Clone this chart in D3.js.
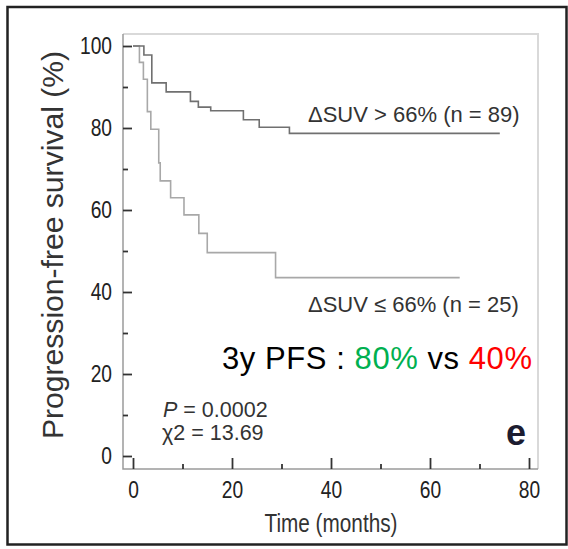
<!DOCTYPE html>
<html>
<head>
<meta charset="utf-8">
<script src="https://cdn.jsdelivr.net/npm/d3@7"></script>
<style>
  html, body { margin: 0; padding: 0; background: #fff; }
  svg { display: block; }
  .reg { font-family: "Liberation Sans", Arial, Helvetica, sans-serif; }
</style>
</head>
<body>
<script>
// ---- data ----
const highGroupMonths = [0, 2.2, 3.8, 6.7, 11.6, 13.2, 15.7, 22.3, 25.5, 31.6, 74.1];
const highGroupSurv   = [100, 97.8, 91, 88.8, 86.5, 85.1, 84.2, 82, 80.2, 78.7, 78.7];
const lowGroupMonths  = [0, 1.3, 2.1, 2.9, 3.6, 5.2, 5.5, 7.6, 10.3, 13.3, 15, 28.8, 66];
const lowGroupSurv    = [100, 96, 91.9, 84, 79.7, 71.5, 67.1, 63, 58.8, 54.3, 49.6, 43.5, 43.5];
const yMajorTicks = [0, 20, 40, 60, 80, 100];
const yMinorTicks = [10, 30, 50, 70, 90];
const xMajorTicks = [0, 20, 40, 60, 80];
const xMinorTicks = [10, 30, 50, 70];
const highLabel = "ΔSUV > 66% (n = 89)";
const lowLabel = "ΔSUV ≤ 66% (n = 25)";

const W = 568, H = 549;
const svg = d3.select("body").append("svg").attr("width", W).attr("height", H);

// outer frame
svg.append("rect").attr("x", 7.5).attr("y", 7).attr("width", 559).attr("height", 537.5)
  .attr("fill", "none").attr("stroke", "#222").attr("stroke-width", 2.5);

const x = d3.scaleLinear().domain([0, 80]).range([133, 529]);
const y = d3.scaleLinear().domain([0, 100]).range([456, 46]);

const boxL = 123, boxR = 538, boxT = 34, boxB = 469;

// plot box: top/right light, left/bottom darker
svg.append("path").attr("d", `M${boxL},${boxT}H${boxR}V${boxB}`)
  .attr("fill", "none").attr("stroke", "#d9d9d9").attr("stroke-width", 2);
svg.append("path").attr("d", `M${boxL},${boxT}V${boxB}H${boxR}`)
  .attr("fill", "none").attr("stroke", "#9a9a9a").attr("stroke-width", 1.5);

// y axis ticks
const yMaj = svg.append("g").attr("transform", `translate(${boxL},0)`)
  .call(d3.axisLeft(y).tickValues(yMajorTicks).tickSize(-9).tickPadding(11).tickFormat(d3.format("d")));
const yMin = svg.append("g").attr("transform", `translate(${boxL},0)`)
  .call(d3.axisLeft(y).tickValues(yMinorTicks).tickSize(-5).tickFormat(""));
// x axis ticks
const xMaj = svg.append("g").attr("transform", `translate(0,${boxB})`)
  .call(d3.axisBottom(x).tickValues(xMajorTicks).tickSize(-11).tickPadding(12).tickFormat(d3.format("d")));
const xMin = svg.append("g").attr("transform", `translate(0,${boxB})`)
  .call(d3.axisBottom(x).tickValues(xMinorTicks).tickSize(-5).tickFormat(""));

[yMaj, yMin, xMaj, xMin].forEach(g => {
  g.attr("font-family", null).attr("font-size", null);
  g.select(".domain").remove();
  g.selectAll("line").attr("stroke", "#333").attr("stroke-width", 1.8);
  g.selectAll("text").attr("class", "reg").attr("font-size", 24).attr("fill", "#222")
    .each(function () {
      const len = this.getComputedTextLength();
      if (len > 0) d3.select(this).attr("textLength", len * 0.8).attr("lengthAdjust", "spacingAndGlyphs");
    });
});

// curves
const line = d3.line().x(d => x(d[0])).y(d => y(d[1])).curve(d3.curveStepAfter);
const highData = highGroupMonths.map((m, i) => [m, highGroupSurv[i]]);
const lowData = lowGroupMonths.map((m, i) => [m, lowGroupSurv[i]]);
svg.append("path").datum(lowData).attr("d", line)
  .attr("fill", "none").attr("stroke", "#a8a8a8").attr("stroke-width", 1.6);
svg.append("path").datum(highData).attr("d", line)
  .attr("fill", "none").attr("stroke", "#707070").attr("stroke-width", 1.6);

// axis titles
svg.append("text").attr("class", "reg")
  .attr("transform", "translate(63,245) rotate(-90)")
  .attr("text-anchor", "middle").attr("font-size", 29).attr("fill", "#333")
  .attr("textLength", 388).attr("lengthAdjust", "spacingAndGlyphs")
  .text("Progression-free survival (%)");
svg.append("text").attr("class", "reg")
  .attr("x", 331).attr("y", 532).attr("text-anchor", "middle")
  .attr("font-size", 25).attr("fill", "#333")
  .attr("textLength", 133).attr("lengthAdjust", "spacingAndGlyphs")
  .text("Time (months)");

// group labels
svg.append("text").attr("class", "reg").attr("x", 308).attr("y", 122)
  .attr("font-size", 22).attr("fill", "#333").text(highLabel);
svg.append("text").attr("class", "reg").attr("x", 308).attr("y", 311.5)
  .attr("font-size", 22).attr("fill", "#333").text(lowLabel);

// 3y PFS annotation
const pfs = svg.append("text").attr("class", "reg").attr("x", 532).attr("y", 369)
  .attr("text-anchor", "end").attr("font-size", 31).attr("fill", "#000")
  .attr("textLength", 310).attr("lengthAdjust", "spacing");
pfs.append("tspan").text("3y PFS : ");
pfs.append("tspan").attr("fill", "#00b050").text("80%");
pfs.append("tspan").text(" vs ");
pfs.append("tspan").attr("fill", "#ff0000").text("40%");

// stats
const p = svg.append("text").attr("class", "reg").attr("x", 163).attr("y", 417)
  .attr("font-size", 21.5).attr("fill", "#333");
p.append("tspan").attr("font-style", "italic").text("P");
p.append("tspan").text(" = 0.0002");
svg.append("text").attr("class", "reg").attr("x", 162).attr("y", 440)
  .attr("font-size", 21.5).attr("fill", "#333").text("χ2 = 13.69");

// panel letter
svg.append("text").attr("class", "reg").attr("x", 506).attr("y", 445)
  .attr("font-size", 36).attr("font-weight", "bold").attr("fill", "#1c1c30").text("e");
</script>
</body>
</html>
